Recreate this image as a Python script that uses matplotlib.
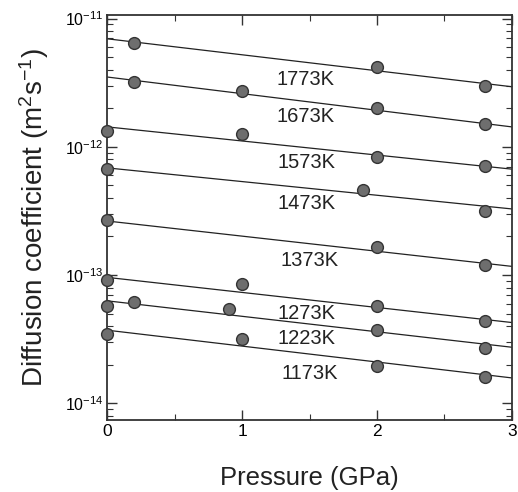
import matplotlib
matplotlib.use("Agg")
import matplotlib.pyplot as plt
from matplotlib.ticker import LogLocator, MultipleLocator, NullFormatter

plt.rcParams["font.family"] = ["Liberation Sans", "DejaVu Sans"]
plt.rcParams["mathtext.fontset"] = "custom"
plt.rcParams["mathtext.rm"] = "Liberation Sans"
plt.rcParams["mathtext.it"] = "Liberation Sans"

# temperatures and measured diffusion coefficients (m^2/s)
temps = ["1773K", "1673K", "1573K", "1473K", "1373K", "1273K", "1223K", "1173K"]
pressures = [
    [0.2, 2.0, 2.8],
    [0.2, 1.0, 2.0, 2.8],
    [0.0, 1.0, 2.0, 2.8],
    [0.0, 1.9, 2.8],
    [0.0, 2.0, 2.8],
    [0.0, 1.0, 2.0, 2.8],
    [0.0, 0.2, 0.9, 2.0, 2.8],
    [0.0, 1.0, 2.0, 2.8],
]
diffusion = [
    [6.5e-12, 4.2e-12, 3.0e-12],
    [3.2e-12, 2.7e-12, 2.0e-12, 1.5e-12],
    [1.33e-12, 1.26e-12, 8.3e-13, 7.1e-13],
    [6.7e-13, 4.6e-13, 3.15e-13],
    [2.7e-13, 1.66e-13, 1.2e-13],
    [9.1e-14, 8.5e-14, 5.7e-14, 4.4e-14],
    [5.7e-14, 6.2e-14, 5.4e-14, 3.7e-14, 2.7e-14],
    [3.45e-14, 3.15e-14, 1.95e-14, 1.62e-14],
]
# fitted line values at P = 0 and P = 3 GPa
fit_p = [0.0, 3.0]
fit_start = [6.95e-12, 3.5e-12, 1.43e-12, 6.85e-13, 2.64e-13, 9.6e-14, 6.3e-14, 3.72e-14]
fit_end = [2.94e-12, 1.43e-12, 6.7e-13, 3.28e-13, 1.17e-13, 4.27e-14, 2.74e-14, 1.58e-14]
# label anchor positions
label_p = [1.47, 1.47, 1.48, 1.48, 1.5, 1.48, 1.48, 1.5]
label_d = [3.35e-12, 1.71e-12, 7.6e-13, 3.6e-13, 1.3e-13, 5.0e-14, 3.2e-14, 1.7e-14]
y_major = [1e-14, 1e-13, 1e-12, 1e-11]

fig = plt.figure(figsize=(5.18, 4.92), dpi=100)
ax = fig.add_axes([0.207, 0.146, 0.781, 0.824])

for i, t in enumerate(temps):
    ax.plot(fit_p, [fit_start[i], fit_end[i]], color="#222222", lw=0.9, zorder=2)
    ax.plot(pressures[i], diffusion[i], "o", ms=8.5, mfc="#6e6e6e",
            mec="#333333", mew=1.0, zorder=3, clip_on=False)
    ax.text(label_p[i], label_d[i], t, ha="center", va="center",
            fontsize=14.5, color="#222222")

ax.set_yscale("log")
ax.set_xlim(0, 3)
ax.set_ylim(7.4e-15, 1.07e-11)
ax.xaxis.set_major_locator(MultipleLocator(1))
ax.xaxis.set_minor_locator(MultipleLocator(0.5))
ax.set_yticks(y_major)
ax.yaxis.set_minor_locator(LogLocator(base=10, subs=range(2, 10), numticks=10))
ax.yaxis.set_minor_formatter(NullFormatter())
ax.tick_params(which="both", direction="in", top=True, right=True,
               color="#333333")
ax.tick_params(which="major", length=7, width=1.0, labelsize=12.5, pad=3)
ax.tick_params(axis="y", which="major", labelsize=11.5, pad=3)
ax.tick_params(which="minor", length=4, width=0.8)
for s in ax.spines.values():
    s.set_linewidth(1.3)
    s.set_color("#333333")

ax.set_xlabel("Pressure (GPa)", fontsize=18.5, labelpad=19, color="#222222")
ax.set_ylabel("Diffusion coefficient (m$^2$s$^{-1}$)", fontsize=20,
              labelpad=10, color="#222222")

fig.savefig("out.png", dpi=100)
